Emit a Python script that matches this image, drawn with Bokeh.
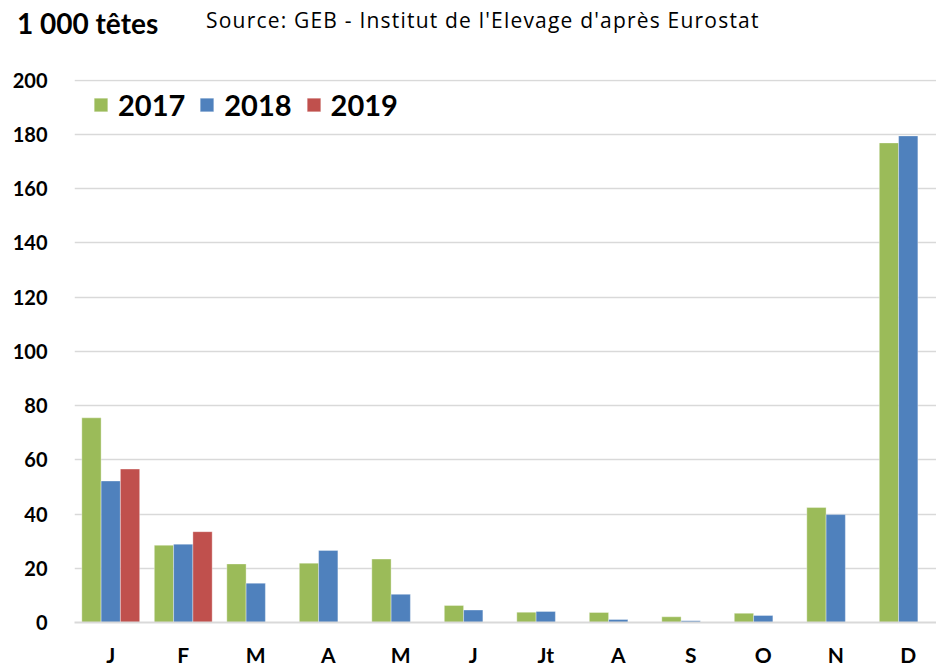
import numpy as np
from bokeh.plotting import figure
from bokeh.layouts import column
from bokeh.models import Range1d, Legend, LegendItem, FixedTicker, Div
from bokeh.embed import file_html
from bokeh.resources import INLINE

# ---- data ----
months = ["J", "F", "M", "A", "M", "J", "Jt", "A", "S", "O", "N", "D"]
v2017 = [75.5, 28.5, 21.6, 21.9, 23.4, 6.3, 3.8, 3.7, 2.1, 3.4, 42.4, 176.9]
v2018 = [52.2, 28.9, 14.5, 26.6, 10.4, 4.6, 4.1, 1.1, 0.6, 2.6, 39.8, 179.5]
v2019 = [56.6, 33.5]
years = ["2017", "2018", "2019"]
y_ticks = [0, 20, 40, 60, 80, 100, 120, 140, 160, 180, 200]
unit_label = "1 000 têtes"
source_label = "Source: GEB - Institut de l'Elevage d'après Eurostat"

colors = ["#9BBB59", "#4F81BD", "#C0504D"]
FONT = "Lato"
W = 936
HEAD_H = 58
MAIN_H = 669 - HEAD_H

# ---- header (unit + source) ----
head_html = (
    f'<div style="position:relative;width:{W}px;height:{HEAD_H}px;">'
    f'<span style="position:absolute;left:17px;top:6px;white-space:nowrap;'
    f'font-family:Lato;font-weight:bold;font-size:28px;line-height:normal;color:black;">'
    f'{unit_label}</span>'
    f'<span style="position:absolute;left:206px;top:6px;white-space:nowrap;'
    f'font-family:\'Open Sans\';font-size:21px;letter-spacing:1.2px;'
    f'line-height:normal;color:black;">'
    f'{source_label}</span></div>'
)
head = Div(text=head_html, width=W, height=HEAD_H, margin=(0, 0, 0, 0))

# ---- main chart ----
p = figure(width=W, height=MAIN_H, output_backend="svg", toolbar_location=None,
           x_range=Range1d(-0.5, 11.39), y_range=Range1d(0, 200.3),
           min_border_left=74, min_border_right=0, min_border_top=21,
           min_border_bottom=45)
p.outline_line_color = None

bw = 0.266
idx = np.arange(len(months))
r1 = p.vbar(x=idx - bw, top=v2017, width=bw, fill_color=colors[0],
            line_color="white", line_alpha=0.35, line_width=1)
r2 = p.vbar(x=idx, top=v2018, width=bw, fill_color=colors[1],
            line_color="white", line_alpha=0.35, line_width=1)
r3 = p.vbar(x=np.arange(len(v2019)) + bw, top=v2019, width=bw, fill_color=colors[2],
            line_color="white", line_alpha=0.35, line_width=1)

p.xgrid.visible = False
p.ygrid.ticker = FixedTicker(ticks=y_ticks)
p.ygrid.grid_line_color = "#d9d9d9"
p.ygrid.grid_line_width = 1.5

p.yaxis.ticker = FixedTicker(ticks=y_ticks)
p.yaxis.axis_line_color = None
p.yaxis.major_tick_line_color = None
p.yaxis.minor_tick_line_color = None
p.yaxis.major_tick_out = 0
p.yaxis.major_tick_in = 0
p.yaxis.minor_tick_out = 0
p.yaxis.major_label_standoff = 27
p.yaxis.major_label_text_font = FONT
p.yaxis.major_label_text_font_style = "bold"
p.yaxis.major_label_text_font_size = "20px"
p.yaxis.major_label_text_color = "black"

p.xaxis.ticker = FixedTicker(ticks=list(idx))
p.xaxis.major_label_overrides = {int(i): m for i, m in zip(idx, months)}
p.xaxis.axis_line_color = "#d9d9d9"
p.xaxis.axis_line_width = 2
p.xaxis.major_tick_line_color = None
p.xaxis.minor_tick_line_color = None
p.xaxis.major_tick_out = 0
p.xaxis.major_tick_in = 0
p.xaxis.minor_tick_out = 0
p.xaxis.major_label_standoff = 19
p.xaxis.major_label_text_font = FONT
p.xaxis.major_label_text_font_style = "bold"
p.xaxis.major_label_text_font_size = "21px"
p.xaxis.major_label_text_color = "black"

legend = Legend(items=[LegendItem(label=years[0], renderers=[r1]),
                       LegendItem(label=years[1], renderers=[r2]),
                       LegendItem(label=years[2], renderers=[r3])],
                orientation="horizontal", location=(18, 500), margin=0, padding=0,
                spacing=13, glyph_width=17, glyph_height=17, label_standoff=9,
                label_text_font=FONT, label_text_font_style="bold",
                label_text_font_size="29px", label_text_color="black",
                background_fill_alpha=0, border_line_color=None)
p.add_layout(legend)

layout = column(head, p, spacing=0)
open("out.html", "w").write(file_html(layout, INLINE))
